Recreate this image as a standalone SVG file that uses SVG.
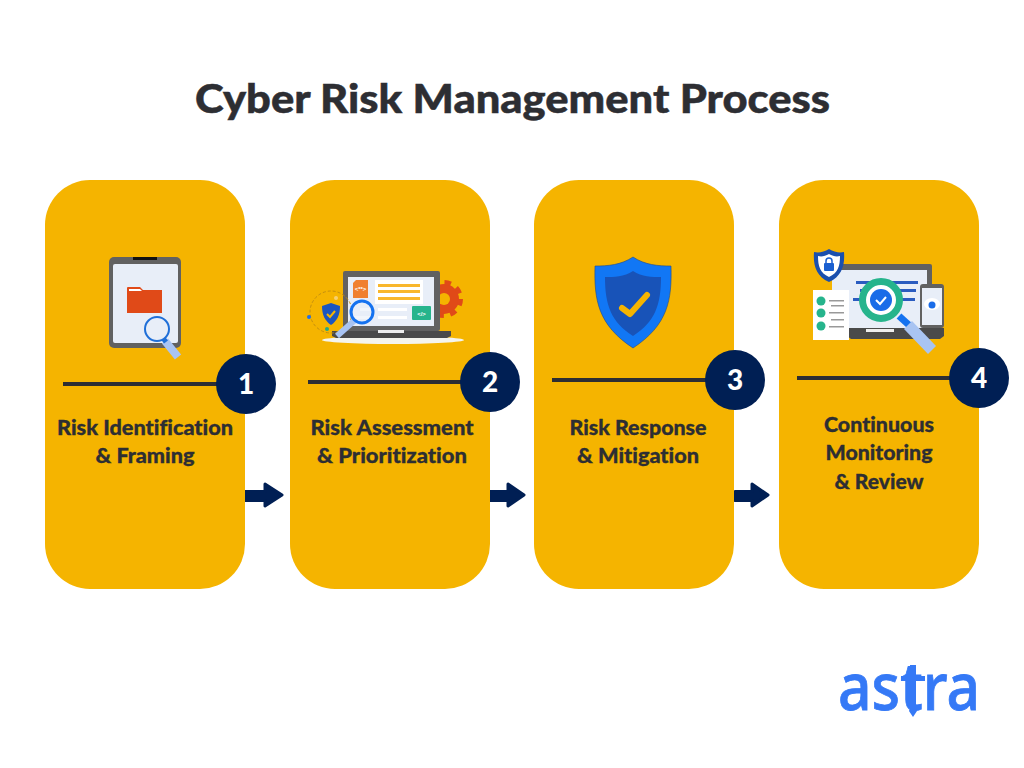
<svg xmlns="http://www.w3.org/2000/svg" width="1024" height="768" viewBox="0 0 1024 768">
<style>
text{font-family:"Lato","Liberation Sans",sans-serif;font-weight:900;font-variant-ligatures:none}
.title{font-size:40px;fill:#2d2e33;stroke:#2d2e33;stroke-width:.5}
.lab{font-size:20px;fill:#2d2e33;text-anchor:middle;stroke:#2d2e33;stroke-width:.3}
.num{font-size:28px;fill:#fff;text-anchor:middle}
.card{fill:#f5b400}
.rule{stroke:#2d2e33;stroke-width:4}
.badge{fill:#001f54}
.arrow{fill:#001f54;stroke:#001f54;stroke-width:3;stroke-linejoin:round}
.logo{font-family:"Noto Sans","Liberation Sans",sans-serif;font-size:65px;fill:#3579f6;stroke:#3579f6;stroke-width:.8;font-weight:500}
.tiny{font-family:"Liberation Sans",sans-serif;font-size:6px;font-weight:700;fill:#fff;text-anchor:middle}
</style>
<rect width="1024" height="768" fill="#fff"/>
<text class="title" x="195" y="113" textLength="635" lengthAdjust="spacingAndGlyphs">Cyber Risk Management Process</text>
<g id="connectors">
<path class="arrow" d="M245 491.500H265V484L282 495L265 506V500.500H245Z"/>
<path class="arrow" d="M490 491.500H508V484L524 495L508 506V500.500H490Z"/>
<path class="arrow" d="M735 491.500H752V484L768 495L752 506V500.500H735Z"/>
</g>
<g id="node1">
<rect class="card" x="45" y="180" width="200" height="409" rx="45"/>
<rect x="109" y="257" width="72" height="91" rx="5" fill="#616161"/>
<rect x="133" y="257" width="24" height="3" fill="#111"/>
<rect x="113" y="264" width="65" height="79" rx="2" fill="#e8eef8"/>
<path d="M127 288q0-1 1-1h12l3 3h19v23h-35z" fill="#e04a18"/>
<path d="M129 289h11l2 2h-13z" fill="#fff"/>
<path d="M165 341l13 16" stroke="#a9c4f2" stroke-width="8"/>
<path d="M162 337l4 5" stroke="#1f6fd8" stroke-width="5"/>
<circle cx="157" cy="329" r="12" fill="#e8eef8" stroke="#1f6fd8" stroke-width="2"/>
<path class="rule" d="M63 384H220"/>
<circle class="badge" cx="246" cy="384" r="30"/>
<text class="num" x="246" y="394">1</text>
<text class="lab" x="145" y="435" textLength="176" lengthAdjust="spacingAndGlyphs">Risk Identification</text>
<text class="lab" x="145" y="463" textLength="99" lengthAdjust="spacingAndGlyphs">&amp; Framing</text>
</g>
<g id="node2">
<rect class="card" x="290" y="180" width="200" height="409" rx="45"/>
<circle cx="444" cy="299" r="15" fill="#e04a18"/>
<circle cx="444" cy="299" r="16.500" fill="none" stroke="#e04a18" stroke-width="5" stroke-dasharray="6.500 6.460"/>
<circle cx="444" cy="299" r="6" fill="#f5b400"/>
<ellipse cx="393" cy="340" rx="71" ry="4" fill="#f4f4ee"/>
<rect x="343" y="271" width="97" height="60" rx="2" fill="#616161"/>
<rect x="348" y="277" width="86" height="49" fill="#e8eef8"/>
<path d="M332 331H451V336L447 338H336L332 336Z" fill="#4a4a4a"/>
<rect x="378" y="330" width="26" height="3" fill="#eee"/>
<path d="M353 283l3-3h12v18h-15z" fill="#f08030"/>
<text class="tiny" x="360.500" y="291">&lt;**&gt;</text>
<rect x="375" y="280" width="48" height="24" fill="#fff"/>
<g fill="#f9b72c"><rect x="378" y="284" width="42" height="3"/><rect x="378" y="290" width="42" height="3"/><rect x="378" y="297" width="42" height="3"/></g>
<rect x="412" y="306" width="19" height="14" rx="1" fill="#26b48c"/>
<text class="tiny" x="421.500" y="315.500">&lt;/&gt;</text>
<g fill="#fff"><rect x="378" y="308" width="29" height="3"/><rect x="378" y="316" width="29" height="3"/><rect x="360" y="308" width="13" height="3"/><rect x="352" y="316" width="21" height="3"/></g>
<circle cx="331" cy="312" r="21" fill="none" stroke="#c48f10" stroke-width="1" stroke-dasharray="3 2"/>
<circle cx="309" cy="317" r="2" fill="#1f6fe8"/>
<circle cx="327" cy="329" r="2" fill="#26a880"/>
<circle cx="336" cy="298" r="2" fill="#f7d070"/>
<path d="M331 303l9 3c0 9-3 15-9 19-6-4-9-10-9-19z" fill="#1a55c0"/>
<path d="M327 314l3 3 5-6" fill="none" stroke="#f5b400" stroke-width="2"/>
<path d="M355 320L337 336" stroke="#a9c4f2" stroke-width="6"/>
<circle cx="362" cy="312" r="11" fill="#e8eef8" fill-opacity=".6" stroke="#1472f0" stroke-width="3"/>
<path class="rule" d="M308 382H465"/>
<circle class="badge" cx="490" cy="382" r="30"/>
<text class="num" x="490" y="392">2</text>
<text class="lab" x="392" y="435" textLength="163" lengthAdjust="spacingAndGlyphs">Risk Assessment</text>
<text class="lab" x="392" y="463" textLength="150" lengthAdjust="spacingAndGlyphs">&amp; Prioritization</text>
</g>
<g id="node3">
<rect class="card" x="534" y="180" width="200" height="409" rx="45"/>
<path d="M633 257C645 265 658 266 671 266C672 300 668 325 633 348C598 325 594 300 595 266C608 266 621 265 633 257Z" fill="#1177f5" stroke="#1f4a8c" stroke-width=".6"/>
<path d="M633 271C642 277 652 277 661 277C661 305 655 322 633 336C611 322 605 305 605 277C614 277 624 277 633 271Z" fill="#1853b8"/>
<path d="M622 308L630 314L647 295" fill="none" stroke="#f5b400" stroke-width="6" stroke-linecap="round" stroke-linejoin="round"/>
<path class="rule" d="M552 380H710"/>
<circle class="badge" cx="735" cy="380" r="30"/>
<text class="num" x="735" y="390">3</text>
<text class="lab" x="638" y="435" textLength="137" lengthAdjust="spacingAndGlyphs">Risk Response</text>
<text class="lab" x="638" y="463" textLength="122" lengthAdjust="spacingAndGlyphs">&amp; Mitigation</text>
</g>
<g id="node4">
<rect class="card" x="779" y="180" width="200" height="409" rx="45"/>
<rect x="832" y="264" width="100" height="64" rx="2" fill="#616161"/>
<rect x="832" y="270" width="95" height="58" fill="#e8eef8"/>
<g fill="#2a5cc0"><rect x="856" y="281" width="62" height="3"/><rect x="860" y="289" width="56" height="3"/><rect x="853" y="298" width="62" height="3"/></g>
<path d="M847 328H944V336L940 339H851L847 336Z" fill="#4a4a4a"/>
<rect x="866" y="329" width="28" height="3" fill="#eee"/>
<rect x="920" y="284" width="24" height="44" rx="3" fill="#616161"/>
<rect x="922" y="288" width="20" height="37" fill="#e8eef8"/>
<ellipse cx="932" cy="304" rx="8" ry="6" fill="#fff"/>
<circle cx="932" cy="305" r="3.500" fill="#1a6ce8"/>
<rect x="813" y="290" width="36" height="50" fill="#fff"/>
<g fill="#26b48c"><circle cx="821" cy="301" r="4.500"/><circle cx="821" cy="313" r="4.500"/><circle cx="821" cy="326" r="4.500"/></g>
<g fill="#999"><rect x="829" y="300" width="15" height="1.500"/><rect x="831" y="305" width="13" height="1.500"/><rect x="829" y="312" width="15" height="1.500"/><rect x="831" y="319" width="13" height="1.500"/><rect x="829" y="326" width="15" height="1.500"/></g>
<path d="M829 249C834 252 839 253 844 252C845 265 842 276 829 282C816 276 813 265 814 252C819 253 824 252 829 249Z" fill="#1a4fae"/>
<path d="M829 254C833 256 836 257 840 256C840 266 838 273 829 277C820 273 818 266 818 256C822 257 825 256 829 254Z" fill="#fff"/>
<rect x="824" y="263" width="10" height="8" rx="1" fill="#1a5fd0"/>
<path d="M826 263v-2a3 3 0 0 1 6 0v2" fill="none" stroke="#1a5fd0" stroke-width="1.500"/>
<path d="M899 316L910 326" stroke="#1472f0" stroke-width="7"/>
<path d="M904 329L912 321L936 346L928 354Z" fill="#a9c4f2"/>
<circle cx="881" cy="300" r="18.500" fill="#fff" stroke="#26b48c" stroke-width="7"/>
<circle cx="881" cy="300" r="11" fill="#1a6ce8"/>
<path d="M876 300l4 4 6-7" fill="none" stroke="#fff" stroke-width="2"/>
<path class="rule" d="M797 378H955"/>
<circle class="badge" cx="979" cy="378" r="30"/>
<text class="num" x="979" y="388">4</text>
<text class="lab" x="879" y="432" textLength="110" lengthAdjust="spacingAndGlyphs">Continuous</text>
<text class="lab" x="879" y="460" textLength="107" lengthAdjust="spacingAndGlyphs">Monitoring</text>
<text class="lab" x="879" y="489" textLength="89" lengthAdjust="spacingAndGlyphs">&amp; Review</text>
</g>
<g id="logo">
<text class="logo" x="838" y="710" textLength="142" lengthAdjust="spacingAndGlyphs">astra</text>
<path d="M910 665H916V676H925V681H916V708L917 711L913 717L909 711L910 708V681H901V676H910Z" fill="#3579f6"/>
</g>
</svg>
